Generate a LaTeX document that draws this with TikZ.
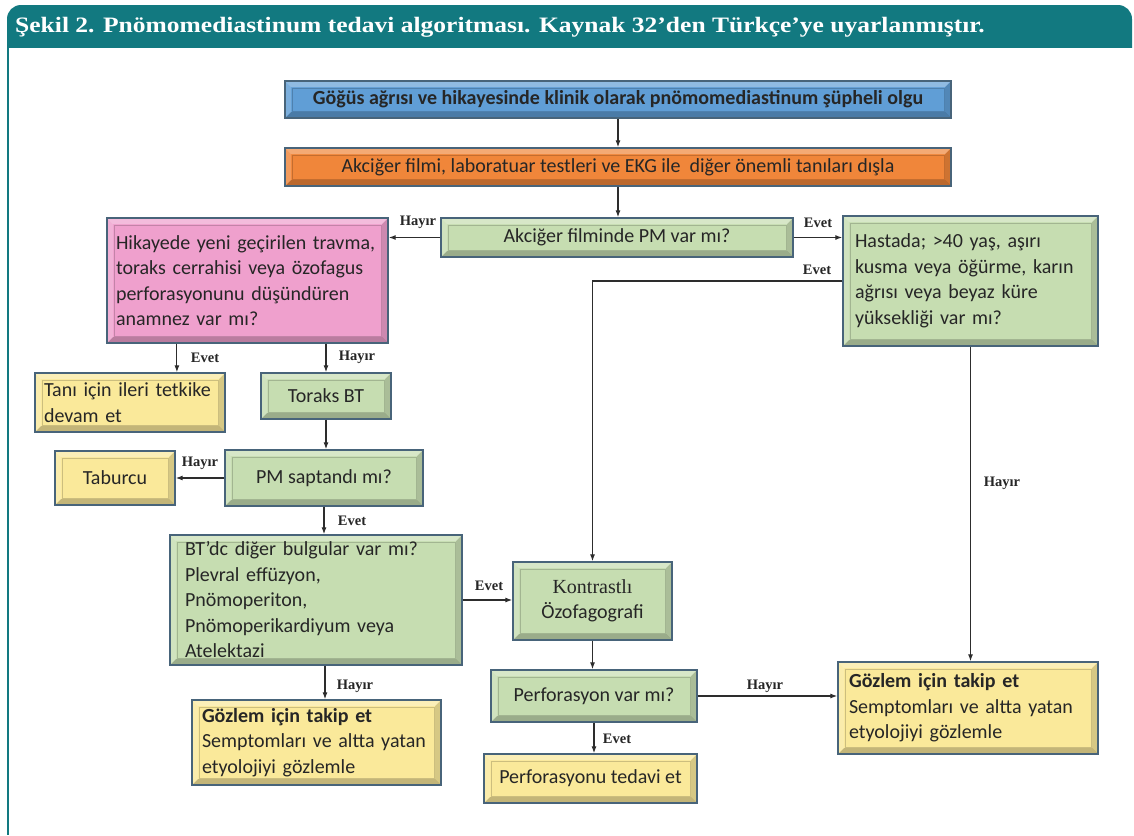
\documentclass[tikz,border=0pt]{standalone}
\usepackage{fontspec}
\setmainfont{Carlito}
\newfontfamily\lblfont{Liberation Serif}
\newfontfamily\ttlfont[FakeStretch=1.16]{Liberation Serif}
\usetikzlibrary{calc,arrows.meta}
\definecolor{teal1}{RGB}{18,121,128}
\definecolor{bluebox}{RGB}{96,158,214}
\definecolor{orangebox}{RGB}{240,134,58}
\definecolor{greenbox}{RGB}{198,221,177}
\definecolor{pinkbox}{RGB}{239,160,205}
\definecolor{yellowbox}{RGB}{250,233,154}
\definecolor{boxline}{RGB}{72,100,122}
\definecolor{arrowcol}{RGB}{45,45,45}
\tikzset{
  bevel/.style={path picture={
    \path (path picture bounding box.south west) coordinate (PA)
          (path picture bounding box.north east) coordinate (PB);
    \fill[black,opacity=.22] (PA) -- (PA-|PB) -- ($(PA-|PB)+(-6pt,6pt)$) -- ($(PA)+(6pt,6pt)$) -- cycle;
    \fill[black,opacity=.14] (PA-|PB) -- (PB) -- ($(PB)+(-6pt,-6pt)$) -- ($(PA-|PB)+(-6pt,6pt)$) -- cycle;
    \fill[white,opacity=.30] (PA|-PB) -- (PB) -- ($(PB)+(-6pt,-6pt)$) -- ($(PA|-PB)+(6pt,-6pt)$) -- cycle;
    \fill[white,opacity=.18] (PA) -- (PA|-PB) -- ($(PA|-PB)+(6pt,-6pt)$) -- ($(PA)+(6pt,6pt)$) -- cycle;
    \draw[black,opacity=.18,line width=.7pt] ($(PA)+(7pt,7pt)$) rectangle ($(PB)+(-7pt,-7pt)$);
  }},
  box/.style n args={3}{draw=boxline, line width=1.4pt, fill=#1, bevel,
    minimum width=#2, minimum height=#3, inner sep=0pt,
    font=\fontsize{20}{25.5}\selectfont, text=black!85},
  ltext/.style={text width=#1, align=left},
  arr/.style={draw=arrowcol, line width=1.1pt, -{Latex[length=7pt,width=5pt]}},
  lbl/.style={font=\lblfont\bfseries\fontsize{14.5}{16}\selectfont, text=black!85, inner sep=0pt}
}
\begin{document}
\begin{tikzpicture}[x=1pt,y=-1pt]
\useasboundingbox (0,0) rectangle (1134,835);
\fill[white] (0,0) rectangle (1134,835);
% header
\begin{scope}
  \clip (0,0) rectangle (1134,47);
  \fill[teal1,rounded corners=14pt] (7,5) rectangle (1132,90);
\end{scope}
\draw[teal1,line width=2pt] (8,46) -- (8,835);
\node[anchor=west,text=white,inner sep=0pt,font=\ttlfont\bfseries\fontsize{22}{24}\selectfont] (title) at (15,27)
  {Şekil 2. Pnömomediastinum tedavi algoritması. Kaynak 32’den Türkçe’ye uyarlanmıştır.};

% boxes
\node[box={bluebox}{666pt}{37pt}] (b1) at (618,99.5) {\textbf{Göğüs ağrısı ve hikayesinde klinik olarak pnömomediastinum şüpheli olgu}};
\node[box={orangebox}{666pt}{38pt}] (b2) at (618,167) {Akciğer filmi, laboratuar testleri ve EKG ile\ \ diğer önemli tanıları dışla};
\node[box={greenbox}{352pt}{39pt}] (q1) at (617,237.5) {Akciğer filminde PM var mı?};
\node[box={pinkbox}{281pt}{125pt},ltext=263pt] (pink) at (247.5,280.5) {Hikayede yeni geçirilen travma,\\toraks cerrahisi veya özofagus\\perforasyonunu düşündüren\\anamnez var mı?};
\node[box={greenbox}{255pt}{130pt},ltext=231pt] (hast) at (970.5,281) {Hastada; >40 yaş, aşırı\\kusma veya öğürme, karın\\ağrısı veya beyaz küre\\yüksekliği var mı?};
\node[box={yellowbox}{190pt}{59pt},ltext=172pt] (tani) at (130,402.5) {Tanı için ileri tetkike\\devam et};
\node[box={greenbox}{130pt}{46pt}] (tor) at (326,396) {Toraks BT};
\node[box={yellowbox}{120pt}{54pt}] (tab) at (115,478) {Taburcu};
\node[box={greenbox}{198pt}{56pt}] (pms) at (324,478) {PM saptandı mı?};
\node[box={greenbox}{292pt}{130pt},ltext=262pt] (btdc) at (316,600) {BT’dc diğer bulgular var mı?\\Plevral effüzyon,\\Pnömoperiton,\\Pnömoperikardiyum veya\\Atelektazi};
\node[box={greenbox}{159pt}{78pt},align=center] (kon) at (592.5,601) {{\lblfont Kontrastlı}\\Özofagografi};
\node[box={greenbox}{206pt}{52pt}] (pvar) at (594,696) {Perforasyon var mı?};
\node[box={yellowbox}{249pt}{85pt},ltext=229pt] (gozL) at (316.5,742.5) {\textbf{Gözlem için takip et}\\Semptomları ve altta yatan\\etyolojiyi gözlemle};
\node[box={yellowbox}{213pt}{49pt}] (ptd) at (590.5,778.5) {Perforasyonu tedavi et};
\node[box={yellowbox}{260pt}{92pt},ltext=238pt] (gozR) at (968,708) {\textbf{Gözlem için takip et}\\Semptomları ve altta yatan\\etyolojiyi gözlemle};

% connectors
\draw[arr] (b1.south) -- (b2.north);
\draw[arr] (b2.south) -- (b2.south |- q1.north);
\draw[arr] (q1.west) -- (q1.west -| pink.east);
\draw[arr] (q1.east) -- (q1.east -| hast.west);
\draw[arr] (hast.west) -| (kon.north);
\draw[arr] (hast.south) -- (hast.south |- gozR.north);
\coordinate (pinkL) at ($(pink.south west)!0.25!(pink.south east)$);
\draw[arr] (pinkL) -- (pinkL |- tani.north);
\draw[arr] (pink.south -| tor.north) -- (tor.north);
\draw[arr] (tor.south) -- (tor.south |- pms.north);
\draw[arr] (pms.west) -- (pms.west -| tab.east);
\draw[arr] (pms.south) -- (pms.south |- btdc.north);
\draw[arr] (btdc.east) -- (btdc.east -| kon.west);
\coordinate (btdcS) at ($(btdc.south)+(9,0)$);
\draw[arr] (btdcS) -- (btdcS |- gozL.north);
\draw[arr] (kon.south) -- (kon.south |- pvar.north);
\draw[arr] (pvar.south) -- (pvar.south |- ptd.north);
\draw[arr] (pvar.east) -- (pvar.east -| gozR.west);

% labels
\node[lbl] (l1) at (418,222) {Hayır};
\node[lbl] (l2) at (818,223) {Evet};
\node[lbl] (l3) at (817,270) {Evet};
\node[lbl] (l4) at (1002,483) {Hayır};
\node[lbl] (l5) at (205,358) {Evet};
\node[lbl] (l6) at (357,357) {Hayır};
\node[lbl] (l7) at (200,463) {Hayır};
\node[lbl] (l8) at (352,521) {Evet};
\node[lbl] (l9) at (489,586) {Evet};
\node[lbl] (l10) at (355,686) {Hayır};
\node[lbl] (l11) at (617,739) {Evet};
\node[lbl] (l12) at (765,686) {Hayır};
\end{tikzpicture}
\end{document}
